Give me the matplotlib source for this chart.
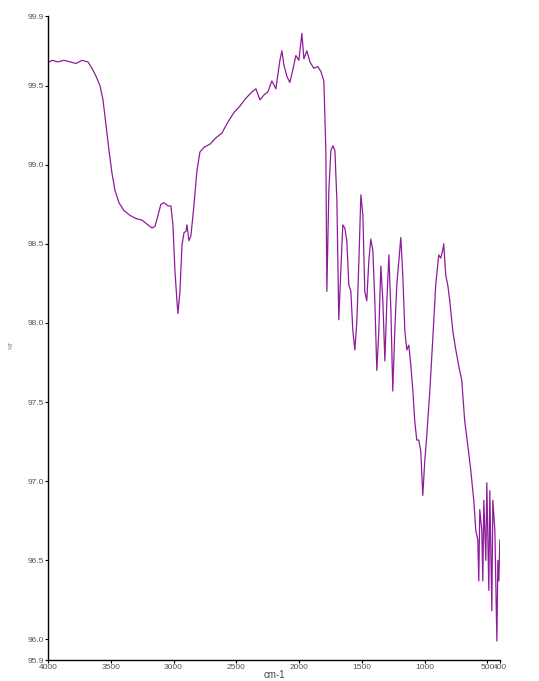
import matplotlib
matplotlib.use("Agg")
import matplotlib.pyplot as plt

# wavenumber (cm-1) and transmittance (%T)
wavenumber = [4000, 3968, 3920, 3873, 3825, 3777, 3729, 3682, 3650, 3618,
              3586, 3562, 3538, 3514, 3491, 3467, 3435, 3395, 3347, 3300,
              3252, 3204, 3172, 3148, 3124, 3101, 3077, 3045, 3021, 3005,
              2989, 2973, 2965, 2949, 2933, 2917, 2901, 2893, 2878, 2862,
              2838, 2814, 2790, 2758, 2710, 2663, 2615, 2567, 2519, 2472,
              2424, 2376, 2344, 2312, 2281, 2249, 2217, 2185, 2153, 2137,
              2121, 2098, 2074, 2050, 2026, 2002, 1978, 1962, 1938, 1914,
              1883, 1851, 1827, 1803, 1787, 1779, 1763, 1747, 1731, 1715,
              1699, 1684, 1668, 1652, 1636, 1620, 1604, 1588, 1572, 1556,
              1540, 1524, 1508, 1492, 1477, 1461, 1445, 1429, 1413, 1397,
              1381, 1365, 1349, 1333, 1317, 1301, 1285, 1269, 1254, 1238,
              1222, 1206, 1190, 1174, 1158, 1142, 1126, 1110, 1094, 1079,
              1063, 1047, 1031, 1015, 999, 983, 959, 936, 912, 888,
              872, 856, 848, 832, 816, 800, 776, 752, 729, 705,
              681, 657, 633, 609, 593, 577, 569, 561, 545, 537,
              529, 513, 505, 489, 481, 465, 457, 441, 425, 417,
              409, 401]
transmittance = [99.645, 99.66, 99.65, 99.66, 99.65, 99.64, 99.66, 99.65, 99.61, 99.56,
                 99.50, 99.41, 99.25, 99.09, 98.95, 98.84, 98.76, 98.71, 98.68, 98.66,
                 98.65, 98.62, 98.60, 98.61, 98.68, 98.75, 98.76, 98.74, 98.74, 98.62,
                 98.33, 98.14, 98.06, 98.20, 98.49, 98.57, 98.58, 98.62, 98.52, 98.55,
                 98.74, 98.96, 99.08, 99.11, 99.13, 99.17, 99.20, 99.27, 99.33, 99.37,
                 99.42, 99.46, 99.48, 99.41, 99.44, 99.46, 99.53, 99.48, 99.66, 99.72,
                 99.63, 99.56, 99.52, 99.60, 99.69, 99.66, 99.83, 99.67, 99.72, 99.65,
                 99.61, 99.62, 99.59, 99.53, 99.09, 98.20, 98.84, 99.09, 99.12, 99.09,
                 98.77, 98.02, 98.33, 98.62, 98.60, 98.52, 98.24, 98.20, 97.95, 97.83,
                 98.01, 98.39, 98.81, 98.68, 98.20, 98.14, 98.39, 98.53, 98.46, 98.14,
                 97.70, 97.95, 98.36, 98.14, 97.76, 98.14, 98.43, 98.08, 97.57, 97.95,
                 98.24, 98.39, 98.54, 98.30, 97.95, 97.83, 97.86, 97.73, 97.57, 97.38,
                 97.26, 97.26, 97.19, 96.91, 97.13, 97.29, 97.57, 97.89, 98.24, 98.43,
                 98.41, 98.46, 98.50, 98.30, 98.24, 98.14, 97.95, 97.83, 97.73, 97.64,
                 97.38, 97.23, 97.07, 96.88, 96.69, 96.63, 96.37, 96.82, 96.69, 96.37,
                 96.88, 96.50, 96.99, 96.31, 96.94, 96.18, 96.88, 96.69, 95.99, 96.50,
                 96.37, 96.63]

x_ticks = [4000, 3500, 3000, 2500, 2000, 1500, 1000, 500, 400]
y_ticks = [95.87, 96.0, 96.5, 97.0, 97.5, 98.0, 98.5, 99.0, 99.5, 99.94]
y_tick_labels = ["95.9", "96.0", "96.5", "97.0", "97.5", "98.0", "98.5", "99.0", "99.5", "99.9"]

plt.rcParams['font.family'] = ['Liberation Sans', 'DejaVu Sans']

fig = plt.figure(figsize=(5.39, 6.81), dpi=100)
ax = fig.add_axes([48 / 539, 21 / 681, 452 / 539, 644 / 681])

ax.plot(wavenumber, transmittance, color='#8e1c9a', linewidth=0.9)

ax.set_xlim(4000, 400)
ax.set_ylim(95.87, 99.94)
ax.set_xticks(x_ticks)
ax.set_xticklabels([str(t) for t in x_ticks])
ax.set_yticks(y_ticks)
ax.set_yticklabels(y_tick_labels)

ax.spines['top'].set_visible(False)
ax.spines['right'].set_visible(False)
ax.spines['left'].set_linewidth(1.0)
ax.spines['bottom'].set_linewidth(1.0)
ax.tick_params(axis='both', labelsize=6, labelcolor='#555555', length=2, width=0.8, pad=1)

ax.set_xlabel("cm-1", fontsize=7, color='#444444')
ax.xaxis.set_label_coords(0.502, -0.016)
ax.set_ylabel("%T", fontsize=4, color='#777777')
ax.yaxis.set_label_coords(-0.075, 0.49)

fig.savefig("out.png", dpi=100)
